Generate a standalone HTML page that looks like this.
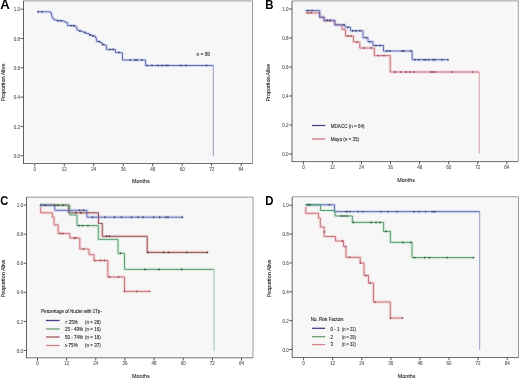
<!DOCTYPE html>
<html><head><meta charset="utf-8"><style>
html,body{margin:0;padding:0;background:#fff;width:520px;height:379px;overflow:hidden;}
body{position:relative;font-family:"Liberation Sans", sans-serif;}
svg{position:absolute;left:0;top:0;font-family:"Liberation Sans", sans-serif;filter:blur(0.45px);}
</style></head><body>
<svg width="520" height="379" viewBox="0 0 520 379">
<rect width="520" height="379" fill="#fff"/>
<rect x="23.5" y="0.9" width="229" height="162.6" fill="#f7f7f7"/>
<rect x="24.9" y="2.3" width="226.2" height="159.8" fill="none" stroke="#fafafa" stroke-width="1"/>
<path d="M23.5,0.9 H252.5 V163.5" fill="none" stroke="#999999" stroke-width="1"/>
<path d="M23.5,163.5 H252.5" fill="none" stroke="#6e6e6e" stroke-width="1"/>
<path d="M23.5,0.9 V164" fill="none" stroke="#606060" stroke-width="1"/>
<path d="M20.5,155.7 H23.5" stroke="#444" stroke-width="0.9"/>
<text transform="translate(20,157.8) scale(0.1)" font-size="45" fill="#555" text-anchor="end" font-weight="normal" stroke="#555" stroke-width="0.8" >0.0</text>
<path d="M20.5,126.4 H23.5" stroke="#444" stroke-width="0.9"/>
<text transform="translate(20,128.5) scale(0.1)" font-size="45" fill="#555" text-anchor="end" font-weight="normal" stroke="#555" stroke-width="0.8" >0.2</text>
<path d="M20.5,97.1 H23.5" stroke="#444" stroke-width="0.9"/>
<text transform="translate(20,99.2) scale(0.1)" font-size="45" fill="#555" text-anchor="end" font-weight="normal" stroke="#555" stroke-width="0.8" >0.4</text>
<path d="M20.5,67.8 H23.5" stroke="#444" stroke-width="0.9"/>
<text transform="translate(20,69.9) scale(0.1)" font-size="45" fill="#555" text-anchor="end" font-weight="normal" stroke="#555" stroke-width="0.8" >0.6</text>
<path d="M20.5,38.5 H23.5" stroke="#444" stroke-width="0.9"/>
<text transform="translate(20,40.6) scale(0.1)" font-size="45" fill="#555" text-anchor="end" font-weight="normal" stroke="#555" stroke-width="0.8" >0.8</text>
<path d="M20.5,9.2 H23.5" stroke="#444" stroke-width="0.9"/>
<text transform="translate(20,11.3) scale(0.1)" font-size="45" fill="#555" text-anchor="end" font-weight="normal" stroke="#555" stroke-width="0.8" >1.0</text>
<path d="M34.8,163.5 V166.3" stroke="#444" stroke-width="0.9"/>
<text transform="translate(34.8,170.7) scale(0.1)" font-size="45" fill="#555" text-anchor="middle" font-weight="normal" stroke="#555" stroke-width="0.8" >0</text>
<path d="M64.27,163.5 V166.3" stroke="#444" stroke-width="0.9"/>
<text transform="translate(64.27,170.7) scale(0.1)" font-size="45" fill="#555" text-anchor="middle" font-weight="normal" stroke="#555" stroke-width="0.8" >12</text>
<path d="M93.74,163.5 V166.3" stroke="#444" stroke-width="0.9"/>
<text transform="translate(93.74,170.7) scale(0.1)" font-size="45" fill="#555" text-anchor="middle" font-weight="normal" stroke="#555" stroke-width="0.8" >24</text>
<path d="M123.21,163.5 V166.3" stroke="#444" stroke-width="0.9"/>
<text transform="translate(123.21,170.7) scale(0.1)" font-size="45" fill="#555" text-anchor="middle" font-weight="normal" stroke="#555" stroke-width="0.8" >36</text>
<path d="M152.69,163.5 V166.3" stroke="#444" stroke-width="0.9"/>
<text transform="translate(152.69,170.7) scale(0.1)" font-size="45" fill="#555" text-anchor="middle" font-weight="normal" stroke="#555" stroke-width="0.8" >48</text>
<path d="M182.16,163.5 V166.3" stroke="#444" stroke-width="0.9"/>
<text transform="translate(182.16,170.7) scale(0.1)" font-size="45" fill="#555" text-anchor="middle" font-weight="normal" stroke="#555" stroke-width="0.8" >60</text>
<path d="M211.63,163.5 V166.3" stroke="#444" stroke-width="0.9"/>
<text transform="translate(211.63,170.7) scale(0.1)" font-size="45" fill="#555" text-anchor="middle" font-weight="normal" stroke="#555" stroke-width="0.8" >72</text>
<path d="M241.1,163.5 V166.3" stroke="#444" stroke-width="0.9"/>
<text transform="translate(241.1,170.7) scale(0.1)" font-size="45" fill="#555" text-anchor="middle" font-weight="normal" stroke="#555" stroke-width="0.8" >84</text>
<text transform="translate(140.8,183.2) scale(0.1)" font-size="54" fill="#1a1a1a" text-anchor="middle" font-weight="normal" stroke="#1a1a1a" stroke-width="0.8" >Months</text>
<text x="0" y="0" font-size="54" fill="#1a1a1a" stroke="#1a1a1a" stroke-width="0.8" text-anchor="middle" transform="translate(4.6,82.5) rotate(-90) scale(0.1)">Proportion Alive</text>
<text x="0" y="0" font-size="12" font-weight="bold" fill="#000" transform="translate(0.2,8.6) scale(1.1,1)">A</text>
<rect x="292" y="0.9" width="226.3" height="160.7" fill="#f7f7f7"/>
<rect x="293.4" y="2.3" width="223.5" height="157.9" fill="none" stroke="#fafafa" stroke-width="1"/>
<path d="M292,0.9 H518.3 V161.6" fill="none" stroke="#999999" stroke-width="1"/>
<path d="M292,161.6 H518.3" fill="none" stroke="#6e6e6e" stroke-width="1"/>
<path d="M292,0.9 V162.1" fill="none" stroke="#606060" stroke-width="1"/>
<path d="M289,154 H292" stroke="#444" stroke-width="0.9"/>
<text transform="translate(288.5,156.1) scale(0.1)" font-size="45" fill="#555" text-anchor="end" font-weight="normal" stroke="#555" stroke-width="0.8" >0.0</text>
<path d="M289,125 H292" stroke="#444" stroke-width="0.9"/>
<text transform="translate(288.5,127.1) scale(0.1)" font-size="45" fill="#555" text-anchor="end" font-weight="normal" stroke="#555" stroke-width="0.8" >0.2</text>
<path d="M289,96 H292" stroke="#444" stroke-width="0.9"/>
<text transform="translate(288.5,98.1) scale(0.1)" font-size="45" fill="#555" text-anchor="end" font-weight="normal" stroke="#555" stroke-width="0.8" >0.4</text>
<path d="M289,67 H292" stroke="#444" stroke-width="0.9"/>
<text transform="translate(288.5,69.1) scale(0.1)" font-size="45" fill="#555" text-anchor="end" font-weight="normal" stroke="#555" stroke-width="0.8" >0.6</text>
<path d="M289,38 H292" stroke="#444" stroke-width="0.9"/>
<text transform="translate(288.5,40.1) scale(0.1)" font-size="45" fill="#555" text-anchor="end" font-weight="normal" stroke="#555" stroke-width="0.8" >0.8</text>
<path d="M289,9 H292" stroke="#444" stroke-width="0.9"/>
<text transform="translate(288.5,11.1) scale(0.1)" font-size="45" fill="#555" text-anchor="end" font-weight="normal" stroke="#555" stroke-width="0.8" >1.0</text>
<path d="M303.4,161.6 V164.4" stroke="#444" stroke-width="0.9"/>
<text transform="translate(303.4,168.8) scale(0.1)" font-size="45" fill="#555" text-anchor="middle" font-weight="normal" stroke="#555" stroke-width="0.8" >0</text>
<path d="M332.46,161.6 V164.4" stroke="#444" stroke-width="0.9"/>
<text transform="translate(332.46,168.8) scale(0.1)" font-size="45" fill="#555" text-anchor="middle" font-weight="normal" stroke="#555" stroke-width="0.8" >12</text>
<path d="M361.51,161.6 V164.4" stroke="#444" stroke-width="0.9"/>
<text transform="translate(361.51,168.8) scale(0.1)" font-size="45" fill="#555" text-anchor="middle" font-weight="normal" stroke="#555" stroke-width="0.8" >24</text>
<path d="M390.57,161.6 V164.4" stroke="#444" stroke-width="0.9"/>
<text transform="translate(390.57,168.8) scale(0.1)" font-size="45" fill="#555" text-anchor="middle" font-weight="normal" stroke="#555" stroke-width="0.8" >36</text>
<path d="M419.63,161.6 V164.4" stroke="#444" stroke-width="0.9"/>
<text transform="translate(419.63,168.8) scale(0.1)" font-size="45" fill="#555" text-anchor="middle" font-weight="normal" stroke="#555" stroke-width="0.8" >48</text>
<path d="M448.69,161.6 V164.4" stroke="#444" stroke-width="0.9"/>
<text transform="translate(448.69,168.8) scale(0.1)" font-size="45" fill="#555" text-anchor="middle" font-weight="normal" stroke="#555" stroke-width="0.8" >60</text>
<path d="M477.74,161.6 V164.4" stroke="#444" stroke-width="0.9"/>
<text transform="translate(477.74,168.8) scale(0.1)" font-size="45" fill="#555" text-anchor="middle" font-weight="normal" stroke="#555" stroke-width="0.8" >72</text>
<path d="M506.8,161.6 V164.4" stroke="#444" stroke-width="0.9"/>
<text transform="translate(506.8,168.8) scale(0.1)" font-size="45" fill="#555" text-anchor="middle" font-weight="normal" stroke="#555" stroke-width="0.8" >84</text>
<text transform="translate(406.2,182) scale(0.1)" font-size="54" fill="#1a1a1a" text-anchor="middle" font-weight="normal" stroke="#1a1a1a" stroke-width="0.8" >Months</text>
<text x="0" y="0" font-size="54" fill="#1a1a1a" stroke="#1a1a1a" stroke-width="0.8" text-anchor="middle" transform="translate(270.2,82.6) rotate(-90) scale(0.1)">Proportion Alive</text>
<text x="0" y="0" font-size="12" font-weight="bold" fill="#000" transform="translate(265.2,8.6) scale(0.95,1)">B</text>
<rect x="26.5" y="197.2" width="226.5" height="160.6" fill="#f7f7f7"/>
<rect x="27.9" y="198.6" width="223.7" height="157.8" fill="none" stroke="#fafafa" stroke-width="1"/>
<path d="M26.5,197.2 H253 V357.8" fill="none" stroke="#999999" stroke-width="1"/>
<path d="M26.5,357.8 H253" fill="none" stroke="#6e6e6e" stroke-width="1"/>
<path d="M26.5,197.2 V358.3" fill="none" stroke="#606060" stroke-width="1"/>
<path d="M23.5,350.5 H26.5" stroke="#444" stroke-width="0.9"/>
<text transform="translate(23,352.6) scale(0.1)" font-size="45" fill="#555" text-anchor="end" font-weight="normal" stroke="#555" stroke-width="0.8" >0.0</text>
<path d="M23.5,321.42 H26.5" stroke="#444" stroke-width="0.9"/>
<text transform="translate(23,323.52) scale(0.1)" font-size="45" fill="#555" text-anchor="end" font-weight="normal" stroke="#555" stroke-width="0.8" >0.2</text>
<path d="M23.5,292.34 H26.5" stroke="#444" stroke-width="0.9"/>
<text transform="translate(23,294.44) scale(0.1)" font-size="45" fill="#555" text-anchor="end" font-weight="normal" stroke="#555" stroke-width="0.8" >0.4</text>
<path d="M23.5,263.26 H26.5" stroke="#444" stroke-width="0.9"/>
<text transform="translate(23,265.36) scale(0.1)" font-size="45" fill="#555" text-anchor="end" font-weight="normal" stroke="#555" stroke-width="0.8" >0.6</text>
<path d="M23.5,234.18 H26.5" stroke="#444" stroke-width="0.9"/>
<text transform="translate(23,236.28) scale(0.1)" font-size="45" fill="#555" text-anchor="end" font-weight="normal" stroke="#555" stroke-width="0.8" >0.8</text>
<path d="M23.5,205.1 H26.5" stroke="#444" stroke-width="0.9"/>
<text transform="translate(23,207.2) scale(0.1)" font-size="45" fill="#555" text-anchor="end" font-weight="normal" stroke="#555" stroke-width="0.8" >1.0</text>
<path d="M37.5,357.8 V360.6" stroke="#444" stroke-width="0.9"/>
<text transform="translate(37.5,365) scale(0.1)" font-size="45" fill="#555" text-anchor="middle" font-weight="normal" stroke="#555" stroke-width="0.8" >0</text>
<path d="M66.64,357.8 V360.6" stroke="#444" stroke-width="0.9"/>
<text transform="translate(66.64,365) scale(0.1)" font-size="45" fill="#555" text-anchor="middle" font-weight="normal" stroke="#555" stroke-width="0.8" >12</text>
<path d="M95.79,357.8 V360.6" stroke="#444" stroke-width="0.9"/>
<text transform="translate(95.79,365) scale(0.1)" font-size="45" fill="#555" text-anchor="middle" font-weight="normal" stroke="#555" stroke-width="0.8" >24</text>
<path d="M124.93,357.8 V360.6" stroke="#444" stroke-width="0.9"/>
<text transform="translate(124.93,365) scale(0.1)" font-size="45" fill="#555" text-anchor="middle" font-weight="normal" stroke="#555" stroke-width="0.8" >36</text>
<path d="M154.07,357.8 V360.6" stroke="#444" stroke-width="0.9"/>
<text transform="translate(154.07,365) scale(0.1)" font-size="45" fill="#555" text-anchor="middle" font-weight="normal" stroke="#555" stroke-width="0.8" >48</text>
<path d="M183.21,357.8 V360.6" stroke="#444" stroke-width="0.9"/>
<text transform="translate(183.21,365) scale(0.1)" font-size="45" fill="#555" text-anchor="middle" font-weight="normal" stroke="#555" stroke-width="0.8" >60</text>
<path d="M212.36,357.8 V360.6" stroke="#444" stroke-width="0.9"/>
<text transform="translate(212.36,365) scale(0.1)" font-size="45" fill="#555" text-anchor="middle" font-weight="normal" stroke="#555" stroke-width="0.8" >72</text>
<path d="M241.5,357.8 V360.6" stroke="#444" stroke-width="0.9"/>
<text transform="translate(241.5,365) scale(0.1)" font-size="45" fill="#555" text-anchor="middle" font-weight="normal" stroke="#555" stroke-width="0.8" >84</text>
<text transform="translate(140.8,378.2) scale(0.1)" font-size="54" fill="#1a1a1a" text-anchor="middle" font-weight="normal" stroke="#1a1a1a" stroke-width="0.8" >Months</text>
<text x="0" y="0" font-size="54" fill="#1a1a1a" stroke="#1a1a1a" stroke-width="0.8" text-anchor="middle" transform="translate(5.2,278.3) rotate(-90) scale(0.1)">Proportion Alive</text>
<text x="0" y="0" font-size="12" font-weight="bold" fill="#000" transform="translate(0.3,204.9) scale(0.93,1)">C</text>
<rect x="292.2" y="196.8" width="226.3" height="160.7" fill="#f7f7f7"/>
<rect x="293.6" y="198.2" width="223.5" height="157.9" fill="none" stroke="#fafafa" stroke-width="1"/>
<path d="M292.2,196.8 H518.5 V357.5" fill="none" stroke="#999999" stroke-width="1"/>
<path d="M292.2,357.5 H518.5" fill="none" stroke="#6e6e6e" stroke-width="1"/>
<path d="M292.2,196.8 V358" fill="none" stroke="#606060" stroke-width="1"/>
<path d="M289.2,349.5 H292.2" stroke="#444" stroke-width="0.9"/>
<text transform="translate(288.7,351.6) scale(0.1)" font-size="45" fill="#555" text-anchor="end" font-weight="normal" stroke="#555" stroke-width="0.8" >0.0</text>
<path d="M289.2,320.64 H292.2" stroke="#444" stroke-width="0.9"/>
<text transform="translate(288.7,322.74) scale(0.1)" font-size="45" fill="#555" text-anchor="end" font-weight="normal" stroke="#555" stroke-width="0.8" >0.2</text>
<path d="M289.2,291.78 H292.2" stroke="#444" stroke-width="0.9"/>
<text transform="translate(288.7,293.88) scale(0.1)" font-size="45" fill="#555" text-anchor="end" font-weight="normal" stroke="#555" stroke-width="0.8" >0.4</text>
<path d="M289.2,262.92 H292.2" stroke="#444" stroke-width="0.9"/>
<text transform="translate(288.7,265.02) scale(0.1)" font-size="45" fill="#555" text-anchor="end" font-weight="normal" stroke="#555" stroke-width="0.8" >0.6</text>
<path d="M289.2,234.06 H292.2" stroke="#444" stroke-width="0.9"/>
<text transform="translate(288.7,236.16) scale(0.1)" font-size="45" fill="#555" text-anchor="end" font-weight="normal" stroke="#555" stroke-width="0.8" >0.8</text>
<path d="M289.2,205.2 H292.2" stroke="#444" stroke-width="0.9"/>
<text transform="translate(288.7,207.3) scale(0.1)" font-size="45" fill="#555" text-anchor="end" font-weight="normal" stroke="#555" stroke-width="0.8" >1.0</text>
<path d="M303.6,357.5 V360.3" stroke="#444" stroke-width="0.9"/>
<text transform="translate(303.6,364.7) scale(0.1)" font-size="45" fill="#555" text-anchor="middle" font-weight="normal" stroke="#555" stroke-width="0.8" >0</text>
<path d="M332.69,357.5 V360.3" stroke="#444" stroke-width="0.9"/>
<text transform="translate(332.69,364.7) scale(0.1)" font-size="45" fill="#555" text-anchor="middle" font-weight="normal" stroke="#555" stroke-width="0.8" >12</text>
<path d="M361.77,357.5 V360.3" stroke="#444" stroke-width="0.9"/>
<text transform="translate(361.77,364.7) scale(0.1)" font-size="45" fill="#555" text-anchor="middle" font-weight="normal" stroke="#555" stroke-width="0.8" >24</text>
<path d="M390.86,357.5 V360.3" stroke="#444" stroke-width="0.9"/>
<text transform="translate(390.86,364.7) scale(0.1)" font-size="45" fill="#555" text-anchor="middle" font-weight="normal" stroke="#555" stroke-width="0.8" >36</text>
<path d="M419.94,357.5 V360.3" stroke="#444" stroke-width="0.9"/>
<text transform="translate(419.94,364.7) scale(0.1)" font-size="45" fill="#555" text-anchor="middle" font-weight="normal" stroke="#555" stroke-width="0.8" >48</text>
<path d="M449.03,357.5 V360.3" stroke="#444" stroke-width="0.9"/>
<text transform="translate(449.03,364.7) scale(0.1)" font-size="45" fill="#555" text-anchor="middle" font-weight="normal" stroke="#555" stroke-width="0.8" >60</text>
<path d="M478.11,357.5 V360.3" stroke="#444" stroke-width="0.9"/>
<text transform="translate(478.11,364.7) scale(0.1)" font-size="45" fill="#555" text-anchor="middle" font-weight="normal" stroke="#555" stroke-width="0.8" >72</text>
<path d="M507.2,357.5 V360.3" stroke="#444" stroke-width="0.9"/>
<text transform="translate(507.2,364.7) scale(0.1)" font-size="45" fill="#555" text-anchor="middle" font-weight="normal" stroke="#555" stroke-width="0.8" >84</text>
<text transform="translate(406.5,378) scale(0.1)" font-size="54" fill="#1a1a1a" text-anchor="middle" font-weight="normal" stroke="#1a1a1a" stroke-width="0.8" >Months</text>
<text x="0" y="0" font-size="54" fill="#1a1a1a" stroke="#1a1a1a" stroke-width="0.8" text-anchor="middle" transform="translate(271,278.3) rotate(-90) scale(0.1)">Proportion Alive</text>
<text x="0" y="0" font-size="12" font-weight="bold" fill="#000" transform="translate(265.2,204.9) scale(0.95,1)">D</text>
<polyline points="37.5,11.8 50.5,11.8 50.5,13 51.5,13 51.5,15.5 52,15.5 52,17.5 53,17.5 53,19 54.5,19 54.5,20 57,20 57,20.8 64,20.8 64,21.5 65.5,21.5 65.5,22.5 67.5,22.5 67.5,25.5 73,25.5 73,26 76,26 76,27.5 77,27.5 77,30 79,30 79,31 82,31 82,31.8 84,31.8 84,32.5 86,32.5 86,33.5 89,33.5 89,35 92,35 92,36 95.5,36 95.5,38 96.5,38 96.5,41.5 100,41.5 100,42.5 102,42.5 102,44.5 105,44.5 105,45.5 106.5,45.5 106.5,49.5 115.5,49.5 115.5,52.5 121,52.5 121,53 122.5,53 122.5,60 145.6,60 145.6,65.5 213.3,65.5" fill="none" stroke="#3050ff" stroke-width="3.2" stroke-opacity="0.16" stroke-linejoin="round"/>
<polyline points="37.5,11.8 50.5,11.8 50.5,13 51.5,13 51.5,15.5 52,15.5 52,17.5 53,17.5 53,19 54.5,19 54.5,20 57,20 57,20.8 64,20.8 64,21.5 65.5,21.5 65.5,22.5 67.5,22.5 67.5,25.5 73,25.5 73,26 76,26 76,27.5 77,27.5 77,30 79,30 79,31 82,31 82,31.8 84,31.8 84,32.5 86,32.5 86,33.5 89,33.5 89,35 92,35 92,36 95.5,36 95.5,38 96.5,38 96.5,41.5 100,41.5 100,42.5 102,42.5 102,44.5 105,44.5 105,45.5 106.5,45.5 106.5,49.5 115.5,49.5 115.5,52.5 121,52.5 121,53 122.5,53 122.5,60 145.6,60 145.6,65.5 213.3,65.5" fill="none" stroke="#6a72a8" stroke-width="1.0" stroke-opacity="1.0"/>
<polyline points="213.3,65.5 213.3,156" fill="none" stroke="#969ac4" stroke-width="1.0" stroke-opacity="1.0"/>
<circle cx="38" cy="11.8" r="0.95" fill="#4a5272"/>
<circle cx="42" cy="11.8" r="0.95" fill="#4a5272"/>
<circle cx="58" cy="20.8" r="0.95" fill="#4a5272"/>
<circle cx="61" cy="20.8" r="0.95" fill="#4a5272"/>
<circle cx="71" cy="25.8" r="0.95" fill="#4a5272"/>
<circle cx="74" cy="25.8" r="0.95" fill="#4a5272"/>
<circle cx="80" cy="31" r="0.95" fill="#4a5272"/>
<circle cx="85" cy="32.5" r="0.95" fill="#4a5272"/>
<circle cx="90" cy="35" r="0.95" fill="#4a5272"/>
<circle cx="93" cy="36" r="0.95" fill="#4a5272"/>
<circle cx="99" cy="41.5" r="0.95" fill="#4a5272"/>
<circle cx="103" cy="44.5" r="0.95" fill="#4a5272"/>
<circle cx="110" cy="49.5" r="0.95" fill="#4a5272"/>
<circle cx="113" cy="49.5" r="0.95" fill="#4a5272"/>
<circle cx="119" cy="52.5" r="0.95" fill="#4a5272"/>
<circle cx="130" cy="60" r="0.95" fill="#4a5272"/>
<circle cx="135" cy="60" r="0.95" fill="#4a5272"/>
<circle cx="137" cy="60" r="0.95" fill="#4a5272"/>
<circle cx="142" cy="60" r="0.95" fill="#4a5272"/>
<circle cx="147" cy="65.5" r="0.95" fill="#4a5272"/>
<circle cx="152" cy="65.5" r="0.95" fill="#4a5272"/>
<circle cx="158" cy="65.5" r="0.95" fill="#4a5272"/>
<circle cx="162" cy="65.5" r="0.95" fill="#4a5272"/>
<circle cx="166" cy="65.5" r="0.95" fill="#4a5272"/>
<circle cx="168" cy="65.5" r="0.95" fill="#4a5272"/>
<circle cx="181" cy="65.5" r="0.95" fill="#4a5272"/>
<circle cx="186" cy="65.5" r="0.95" fill="#4a5272"/>
<circle cx="206.5" cy="65.5" r="0.95" fill="#4a5272"/>
<text transform="translate(196.5,56) scale(0.1)" font-size="48" fill="#1a1a1a" text-anchor="start" font-weight="normal" stroke="#1a1a1a" stroke-width="0.8" >n = 99</text>
<polyline points="305.5,12.8 319.7,12.8 319.7,17.2 324,17.2 324,20.8 334.8,20.8 334.8,24.8 342,24.8 342,29.5 345.5,29.5 345.5,36 353.5,36 353.5,42 359.8,42 359.8,48 374.3,48 374.3,55.6 390.2,55.6 390.2,72 479.3,72" fill="none" stroke="#ff3040" stroke-width="3.2" stroke-opacity="0.16" stroke-linejoin="round"/>
<polyline points="305.5,12.8 319.7,12.8 319.7,17.2 324,17.2 324,20.8 334.8,20.8 334.8,24.8 342,24.8 342,29.5 345.5,29.5 345.5,36 353.5,36 353.5,42 359.8,42 359.8,48 374.3,48 374.3,55.6 390.2,55.6 390.2,72 479.3,72" fill="none" stroke="#c27c84" stroke-width="1.0" stroke-opacity="1.0"/>
<polyline points="479.3,72 479.3,153.5" fill="none" stroke="#d8a0a8" stroke-width="1.0" stroke-opacity="1.0"/>
<polyline points="305.5,10.5 319.7,10.5 319.7,17.2 324,17.2 324,20.3 334.8,20.3 334.8,24.8 345,24.8 345,27.2 350.5,27.2 350.5,30.8 363,30.8 363,37.7 368,37.7 368,41.7 373,41.7 373,45.5 383.5,45.5 383.5,51 412.2,51 412.2,59.7 448,59.7" fill="none" stroke="#3050ff" stroke-width="3.2" stroke-opacity="0.16" stroke-linejoin="round"/>
<polyline points="305.5,10.5 319.7,10.5 319.7,17.2 324,17.2 324,20.3 334.8,20.3 334.8,24.8 345,24.8 345,27.2 350.5,27.2 350.5,30.8 363,30.8 363,37.7 368,37.7 368,41.7 373,41.7 373,45.5 383.5,45.5 383.5,51 412.2,51 412.2,59.7 448,59.7" fill="none" stroke="#6a72a8" stroke-width="1.0" stroke-opacity="1.0"/>
<circle cx="308" cy="12.8" r="0.95" fill="#a05868"/>
<circle cx="311" cy="12.8" r="0.95" fill="#a05868"/>
<circle cx="348" cy="36" r="0.95" fill="#a05868"/>
<circle cx="351" cy="36" r="0.95" fill="#a05868"/>
<circle cx="357" cy="42" r="0.95" fill="#a05868"/>
<circle cx="364" cy="48" r="0.95" fill="#a05868"/>
<circle cx="371" cy="48" r="0.95" fill="#a05868"/>
<circle cx="378" cy="55.6" r="0.95" fill="#a05868"/>
<circle cx="384" cy="55.6" r="0.95" fill="#a05868"/>
<circle cx="395" cy="72" r="0.95" fill="#a05868"/>
<circle cx="401" cy="72" r="0.95" fill="#a05868"/>
<circle cx="406" cy="72" r="0.95" fill="#a05868"/>
<circle cx="410" cy="72" r="0.95" fill="#a05868"/>
<circle cx="414" cy="72" r="0.95" fill="#a05868"/>
<circle cx="431" cy="72" r="0.95" fill="#a05868"/>
<circle cx="433" cy="72" r="0.95" fill="#a05868"/>
<circle cx="435" cy="72" r="0.95" fill="#a05868"/>
<circle cx="452" cy="72" r="0.95" fill="#a05868"/>
<circle cx="472.5" cy="72" r="0.95" fill="#a05868"/>
<circle cx="308" cy="10.5" r="0.95" fill="#4a5272"/>
<circle cx="312" cy="10.5" r="0.95" fill="#4a5272"/>
<circle cx="327" cy="20.3" r="0.95" fill="#4a5272"/>
<circle cx="330" cy="20.3" r="0.95" fill="#4a5272"/>
<circle cx="344" cy="24.8" r="0.95" fill="#4a5272"/>
<circle cx="348" cy="27.2" r="0.95" fill="#4a5272"/>
<circle cx="353" cy="30.8" r="0.95" fill="#4a5272"/>
<circle cx="356" cy="30.8" r="0.95" fill="#4a5272"/>
<circle cx="360" cy="30.8" r="0.95" fill="#4a5272"/>
<circle cx="366" cy="37.7" r="0.95" fill="#4a5272"/>
<circle cx="370" cy="41.7" r="0.95" fill="#4a5272"/>
<circle cx="376" cy="45.5" r="0.95" fill="#4a5272"/>
<circle cx="380" cy="45.5" r="0.95" fill="#4a5272"/>
<circle cx="387" cy="51" r="0.95" fill="#4a5272"/>
<circle cx="390" cy="51" r="0.95" fill="#4a5272"/>
<circle cx="402" cy="51" r="0.95" fill="#4a5272"/>
<circle cx="404" cy="51" r="0.95" fill="#4a5272"/>
<circle cx="411" cy="51" r="0.95" fill="#4a5272"/>
<circle cx="415" cy="59.7" r="0.95" fill="#4a5272"/>
<circle cx="419" cy="59.7" r="0.95" fill="#4a5272"/>
<circle cx="424" cy="59.7" r="0.95" fill="#4a5272"/>
<circle cx="426" cy="59.7" r="0.95" fill="#4a5272"/>
<circle cx="429" cy="59.7" r="0.95" fill="#4a5272"/>
<circle cx="433" cy="59.7" r="0.95" fill="#4a5272"/>
<circle cx="435" cy="59.7" r="0.95" fill="#4a5272"/>
<circle cx="442" cy="59.7" r="0.95" fill="#4a5272"/>
<circle cx="448" cy="59.7" r="0.95" fill="#4a5272"/>
<path d="M312,125.5 H325.3" stroke="#3e4284" stroke-width="1.2"/>
<path d="M312,139 H325.3" stroke="#d6808c" stroke-width="1.4"/>
<text transform="translate(330.8,127.8) scale(0.1)" font-size="45.5" fill="#1a1a1a" text-anchor="start" font-weight="normal" stroke="#1a1a1a" stroke-width="0.8" >MDACC (n = 64)</text>
<text transform="translate(330.8,140.8) scale(0.1)" font-size="45.5" fill="#1a1a1a" text-anchor="start" font-weight="normal" stroke="#1a1a1a" stroke-width="0.8" >Mayo (n = 35)</text>
<polyline points="40.7,207 40.7,212.8 52.4,212.8 52.4,217 54,217 54,224.8 58.2,224.8 58.2,233.5 69.8,233.5 69.8,238 79.8,238 79.8,249 89,249 89,254.7 94,254.7 94,260.5 107.8,260.5 107.8,277 124.5,277 124.5,291.4 149.5,291.4" fill="none" stroke="#ff3040" stroke-width="3.2" stroke-opacity="0.16" stroke-linejoin="round"/>
<polyline points="40.7,207 40.7,212.8 52.4,212.8 52.4,217 54,217 54,224.8 58.2,224.8 58.2,233.5 69.8,233.5 69.8,238 79.8,238 79.8,249 89,249 89,254.7 94,254.7 94,260.5 107.8,260.5 107.8,277 124.5,277 124.5,291.4 149.5,291.4" fill="none" stroke="#c27c84" stroke-width="1.0" stroke-opacity="1.0"/>
<polyline points="40,205.2 68.5,205.2 68.5,212.8 98.5,212.8 98.5,223.5 102.3,223.5 102.3,236.3 147.2,236.3 147.2,252.4 207.4,252.4" fill="none" stroke="#c02020" stroke-width="3.2" stroke-opacity="0.16" stroke-linejoin="round"/>
<polyline points="40,205.2 68.5,205.2 68.5,212.8 98.5,212.8 98.5,223.5 102.3,223.5 102.3,236.3 147.2,236.3 147.2,252.4 207.4,252.4" fill="none" stroke="#905a5a" stroke-width="1.0" stroke-opacity="1.0"/>
<polyline points="40,205.2 69.8,205.2 69.8,215 77,215 77,225.6 98.3,225.6 98.3,239.4 118,239.4 118,253.3 124.5,253.3 124.5,269.4 214,269.4" fill="none" stroke="#20d060" stroke-width="3.2" stroke-opacity="0.16" stroke-linejoin="round"/>
<polyline points="40,205.2 69.8,205.2 69.8,215 77,215 77,225.6 98.3,225.6 98.3,239.4 118,239.4 118,253.3 124.5,253.3 124.5,269.4 214,269.4" fill="none" stroke="#6a9a78" stroke-width="1.0" stroke-opacity="1.0"/>
<polyline points="214,269.4 214,351" fill="none" stroke="#98c4a4" stroke-width="1.0" stroke-opacity="1.0"/>
<polyline points="40,205.2 54.8,205.2 54.8,210.3 87,210.3 87,217.2 182.4,217.2" fill="none" stroke="#3050ff" stroke-width="3.2" stroke-opacity="0.16" stroke-linejoin="round"/>
<polyline points="40,205.2 54.8,205.2 54.8,210.3 87,210.3 87,217.2 182.4,217.2" fill="none" stroke="#6a72a8" stroke-width="1.0" stroke-opacity="1.0"/>
<circle cx="40.5" cy="205.2" r="0.95" fill="#4a5272"/>
<circle cx="45" cy="205.2" r="0.95" fill="#4a5272"/>
<circle cx="79.5" cy="210.3" r="0.95" fill="#4a5272"/>
<circle cx="83.5" cy="210.3" r="0.95" fill="#4a5272"/>
<circle cx="92.5" cy="217.2" r="0.95" fill="#4a5272"/>
<circle cx="105" cy="217.2" r="0.95" fill="#4a5272"/>
<circle cx="114.5" cy="217.2" r="0.95" fill="#4a5272"/>
<circle cx="121.5" cy="217.2" r="0.95" fill="#4a5272"/>
<circle cx="131.5" cy="217.2" r="0.95" fill="#4a5272"/>
<circle cx="138" cy="217.2" r="0.95" fill="#4a5272"/>
<circle cx="143" cy="217.2" r="0.95" fill="#4a5272"/>
<circle cx="153.6" cy="217.2" r="0.95" fill="#4a5272"/>
<circle cx="159.6" cy="217.2" r="0.95" fill="#4a5272"/>
<circle cx="166" cy="217.2" r="0.95" fill="#4a5272"/>
<circle cx="168" cy="217.2" r="0.95" fill="#4a5272"/>
<circle cx="182.4" cy="217.2" r="0.95" fill="#4a5272"/>
<circle cx="54.5" cy="205.2" r="0.95" fill="#3c5a48"/>
<circle cx="58" cy="205.2" r="0.95" fill="#3c5a48"/>
<circle cx="63" cy="205.2" r="0.95" fill="#3c5a48"/>
<circle cx="79" cy="225.6" r="0.95" fill="#3c5a48"/>
<circle cx="82.4" cy="225.6" r="0.95" fill="#3c5a48"/>
<circle cx="88" cy="225.6" r="0.95" fill="#3c5a48"/>
<circle cx="120.5" cy="253.3" r="0.95" fill="#3c5a48"/>
<circle cx="145" cy="269.4" r="0.95" fill="#3c5a48"/>
<circle cx="159" cy="269.4" r="0.95" fill="#3c5a48"/>
<circle cx="181.6" cy="269.4" r="0.95" fill="#3c5a48"/>
<circle cx="76" cy="212.8" r="0.95" fill="#5a4040"/>
<circle cx="81" cy="212.8" r="0.95" fill="#5a4040"/>
<circle cx="106.5" cy="236.3" r="0.95" fill="#5a4040"/>
<circle cx="109.5" cy="236.3" r="0.95" fill="#5a4040"/>
<circle cx="148" cy="252.4" r="0.95" fill="#5a4040"/>
<circle cx="163.6" cy="252.4" r="0.95" fill="#5a4040"/>
<circle cx="168.6" cy="252.4" r="0.95" fill="#5a4040"/>
<circle cx="186.6" cy="252.4" r="0.95" fill="#5a4040"/>
<circle cx="207.4" cy="252.4" r="0.95" fill="#5a4040"/>
<circle cx="60.5" cy="233.5" r="0.95" fill="#a05868"/>
<circle cx="63" cy="233.5" r="0.95" fill="#a05868"/>
<circle cx="74" cy="238" r="0.95" fill="#a05868"/>
<circle cx="76" cy="238" r="0.95" fill="#a05868"/>
<circle cx="83.5" cy="249" r="0.95" fill="#a05868"/>
<circle cx="95" cy="260.5" r="0.95" fill="#a05868"/>
<circle cx="100.5" cy="260.5" r="0.95" fill="#a05868"/>
<circle cx="104.5" cy="260.5" r="0.95" fill="#a05868"/>
<circle cx="109.5" cy="277" r="0.95" fill="#a05868"/>
<circle cx="118.5" cy="277" r="0.95" fill="#a05868"/>
<circle cx="124.5" cy="291.4" r="0.95" fill="#a05868"/>
<circle cx="136.5" cy="291.4" r="0.95" fill="#a05868"/>
<circle cx="149.5" cy="291.4" r="0.95" fill="#a05868"/>
<text transform="translate(41.2,313.1) scale(0.1)" font-size="44.5" fill="#1a1a1a" text-anchor="start" font-weight="normal" stroke="#1a1a1a" stroke-width="0.8" >Percentage of Nuclei with 17p-</text>
<path d="M45.9,320.5 H59.6" stroke="#3e4284" stroke-width="1.3"/>
<text transform="translate(64.9,324) scale(0.1)" font-size="45" fill="#1a1a1a" text-anchor="start" font-weight="normal" stroke="#1a1a1a" stroke-width="0.8" >&lt; 25%</text>
<text transform="translate(85,324) scale(0.1)" font-size="45" fill="#1a1a1a" text-anchor="start" font-weight="normal" stroke="#1a1a1a" stroke-width="0.8" >(n = 28)</text>
<path d="M45.9,329 H59.6" stroke="#6a9e6e" stroke-width="1.3"/>
<text transform="translate(64.9,330.9) scale(0.1)" font-size="45" fill="#1a1a1a" text-anchor="start" font-weight="normal" stroke="#1a1a1a" stroke-width="0.8" >25 - 49%</text>
<text transform="translate(85,330.9) scale(0.1)" font-size="45" fill="#1a1a1a" text-anchor="start" font-weight="normal" stroke="#1a1a1a" stroke-width="0.8" >(n = 16)</text>
<path d="M45.9,337 H59.6" stroke="#a05858" stroke-width="1.3"/>
<text transform="translate(64.9,338.6) scale(0.1)" font-size="45" fill="#1a1a1a" text-anchor="start" font-weight="normal" stroke="#1a1a1a" stroke-width="0.8" >50 - 74%</text>
<text transform="translate(85,338.6) scale(0.1)" font-size="45" fill="#1a1a1a" text-anchor="start" font-weight="normal" stroke="#1a1a1a" stroke-width="0.8" >(n = 18)</text>
<path d="M45.9,345.5 H59.6" stroke="#d6808c" stroke-width="1.3"/>
<text transform="translate(64.9,346.6) scale(0.1)" font-size="45" fill="#1a1a1a" text-anchor="start" font-weight="normal" stroke="#1a1a1a" stroke-width="0.8" >&#8805; 75%</text>
<text transform="translate(85,346.6) scale(0.1)" font-size="45" fill="#1a1a1a" text-anchor="start" font-weight="normal" stroke="#1a1a1a" stroke-width="0.8" >(n = 37)</text>
<polyline points="305.8,207 305.8,213.3 318.5,213.3 318.5,218 320.3,218 320.3,227 324.2,227 324.2,236.5 335.5,236.5 335.5,241 343.5,241 343.5,246.5 346,246.5 346,257.3 360.2,257.3 360.2,263 364,263 364,275.5 368.5,275.5 368.5,283 373.5,283 373.5,302 390.3,302 390.3,318 402.5,318" fill="none" stroke="#ff3040" stroke-width="3.2" stroke-opacity="0.16" stroke-linejoin="round"/>
<polyline points="305.8,207 305.8,213.3 318.5,213.3 318.5,218 320.3,218 320.3,227 324.2,227 324.2,236.5 335.5,236.5 335.5,241 343.5,241 343.5,246.5 346,246.5 346,257.3 360.2,257.3 360.2,263 364,263 364,275.5 368.5,275.5 368.5,283 373.5,283 373.5,302 390.3,302 390.3,318 402.5,318" fill="none" stroke="#c27c84" stroke-width="1.0" stroke-opacity="1.0"/>
<polyline points="305.5,204.8 334.5,204.8 334.5,211.6 479.7,211.6" fill="none" stroke="#3050ff" stroke-width="3.2" stroke-opacity="0.16" stroke-linejoin="round"/>
<polyline points="305.5,204.8 334.5,204.8 334.5,211.6 479.7,211.6" fill="none" stroke="#6a72a8" stroke-width="1.0" stroke-opacity="1.0"/>
<polyline points="479.7,211.6 479.7,350" fill="none" stroke="#969ac4" stroke-width="1.0" stroke-opacity="1.0"/>
<polyline points="305.5,204.8 320.5,204.8 320.5,210.5 335,210.5 335,216 352.4,216 352.4,222.4 383.6,222.4 383.6,231.4 390.4,231.4 390.4,242.4 412,242.4 412,257.6 473.4,257.6" fill="none" stroke="#20d060" stroke-width="3.2" stroke-opacity="0.16" stroke-linejoin="round"/>
<polyline points="305.5,204.8 320.5,204.8 320.5,210.5 335,210.5 335,216 352.4,216 352.4,222.4 383.6,222.4 383.6,231.4 390.4,231.4 390.4,242.4 412,242.4 412,257.6 473.4,257.6" fill="none" stroke="#6a9a78" stroke-width="1.0" stroke-opacity="1.0"/>
<circle cx="329.5" cy="204.8" r="0.95" fill="#4a5272"/>
<circle cx="346" cy="211.6" r="0.95" fill="#4a5272"/>
<circle cx="347.5" cy="211.6" r="0.95" fill="#4a5272"/>
<circle cx="350" cy="211.6" r="0.95" fill="#4a5272"/>
<circle cx="358" cy="211.6" r="0.95" fill="#4a5272"/>
<circle cx="362.6" cy="211.6" r="0.95" fill="#4a5272"/>
<circle cx="381" cy="211.6" r="0.95" fill="#4a5272"/>
<circle cx="388" cy="211.6" r="0.95" fill="#4a5272"/>
<circle cx="397" cy="211.6" r="0.95" fill="#4a5272"/>
<circle cx="414" cy="211.6" r="0.95" fill="#4a5272"/>
<circle cx="419" cy="211.6" r="0.95" fill="#4a5272"/>
<circle cx="425.6" cy="211.6" r="0.95" fill="#4a5272"/>
<circle cx="432" cy="211.6" r="0.95" fill="#4a5272"/>
<circle cx="433.5" cy="211.6" r="0.95" fill="#4a5272"/>
<circle cx="435" cy="211.6" r="0.95" fill="#4a5272"/>
<circle cx="308" cy="204.8" r="0.95" fill="#3c5a48"/>
<circle cx="310" cy="204.8" r="0.95" fill="#3c5a48"/>
<circle cx="341" cy="216" r="0.95" fill="#3c5a48"/>
<circle cx="344" cy="216" r="0.95" fill="#3c5a48"/>
<circle cx="347" cy="216" r="0.95" fill="#3c5a48"/>
<circle cx="353.4" cy="222.4" r="0.95" fill="#3c5a48"/>
<circle cx="371" cy="222.4" r="0.95" fill="#3c5a48"/>
<circle cx="376" cy="222.4" r="0.95" fill="#3c5a48"/>
<circle cx="380" cy="222.4" r="0.95" fill="#3c5a48"/>
<circle cx="386" cy="231.4" r="0.95" fill="#3c5a48"/>
<circle cx="403" cy="242.4" r="0.95" fill="#3c5a48"/>
<circle cx="411" cy="242.4" r="0.95" fill="#3c5a48"/>
<circle cx="414.6" cy="257.6" r="0.95" fill="#3c5a48"/>
<circle cx="424.6" cy="257.6" r="0.95" fill="#3c5a48"/>
<circle cx="429.6" cy="257.6" r="0.95" fill="#3c5a48"/>
<circle cx="447" cy="257.6" r="0.95" fill="#3c5a48"/>
<circle cx="473.4" cy="257.6" r="0.95" fill="#3c5a48"/>
<circle cx="324.2" cy="232" r="0.95" fill="#a05868"/>
<circle cx="342.5" cy="241" r="0.95" fill="#a05868"/>
<circle cx="345.5" cy="246.5" r="0.95" fill="#a05868"/>
<circle cx="349.5" cy="257.3" r="0.95" fill="#a05868"/>
<circle cx="360.5" cy="263" r="0.95" fill="#a05868"/>
<circle cx="366" cy="275.5" r="0.95" fill="#a05868"/>
<circle cx="370" cy="283" r="0.95" fill="#a05868"/>
<circle cx="375" cy="302" r="0.95" fill="#a05868"/>
<circle cx="390.5" cy="318" r="0.95" fill="#a05868"/>
<circle cx="402.5" cy="318" r="0.95" fill="#a05868"/>
<text transform="translate(310.8,320.8) scale(0.1)" font-size="44.5" fill="#1a1a1a" text-anchor="start" font-weight="normal" stroke="#1a1a1a" stroke-width="0.8" >No. Risk Factors</text>
<path d="M312,328.3 H325" stroke="#3e4284" stroke-width="1.3"/>
<text transform="translate(330.5,331.1) scale(0.1)" font-size="45" fill="#1a1a1a" text-anchor="start" font-weight="normal" stroke="#1a1a1a" stroke-width="0.8" >0 - 1</text>
<text transform="translate(341.9,331.1) scale(0.09,0.1)" font-size="45" fill="#1a1a1a" text-anchor="start" font-weight="normal" stroke="#1a1a1a" stroke-width="0.8" >(n = 22)</text>
<path d="M312,336.7 H325" stroke="#6a9e6e" stroke-width="1.3"/>
<text transform="translate(330.5,338.6) scale(0.1)" font-size="45" fill="#1a1a1a" text-anchor="start" font-weight="normal" stroke="#1a1a1a" stroke-width="0.8" >2</text>
<text transform="translate(341.9,338.6) scale(0.09,0.1)" font-size="45" fill="#1a1a1a" text-anchor="start" font-weight="normal" stroke="#1a1a1a" stroke-width="0.8" >(n = 29)</text>
<path d="M312,344.6 H325" stroke="#d6808c" stroke-width="1.3"/>
<text transform="translate(330.5,346.4) scale(0.1)" font-size="45" fill="#1a1a1a" text-anchor="start" font-weight="normal" stroke="#1a1a1a" stroke-width="0.8" >3</text>
<text transform="translate(341.9,346.4) scale(0.09,0.1)" font-size="45" fill="#1a1a1a" text-anchor="start" font-weight="normal" stroke="#1a1a1a" stroke-width="0.8" >(n = 32)</text>
</svg>
</body></html>
